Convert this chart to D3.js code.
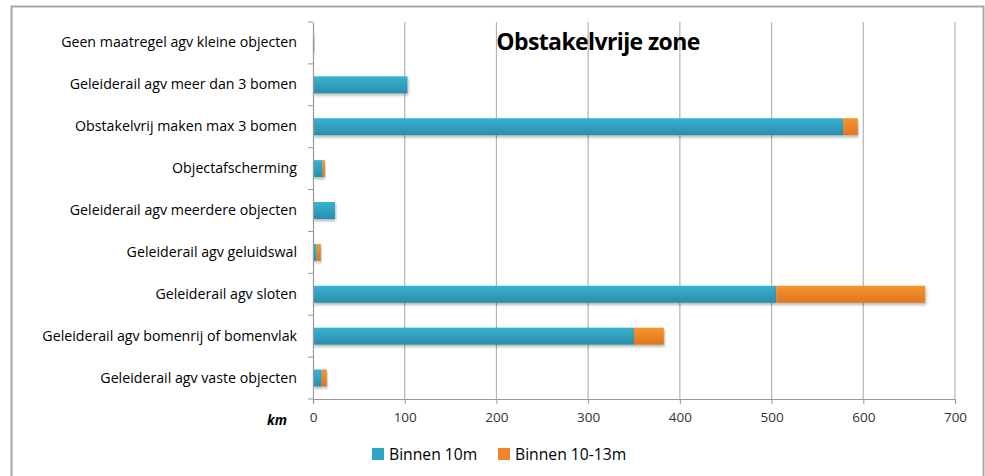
<!DOCTYPE html>
<html><head><meta charset="utf-8">
<script src="https://cdn.jsdelivr.net/npm/d3@7"></script>
<style>body{margin:0;background:#fff;} svg{display:block;font-family:"Open Sans",sans-serif;}</style>
</head><body>
<svg id="c" width="985" height="476"></svg>
<script>
const categories = [
  "Geen maatregel agv kleine objecten",
  "Geleiderail agv meer dan 3 bomen",
  "Obstakelvrij maken max 3 bomen",
  "Objectafscherming",
  "Geleiderail agv meerdere objecten",
  "Geleiderail agv geluidswal",
  "Geleiderail agv sloten",
  "Geleiderail agv bomenrij of bomenvlak",
  "Geleiderail agv vaste objecten"
];
const binnen10 = [0, 103, 578, 10.5, 24, 4, 505, 350, 9.5];
const binnen10_13 = [1.5, 0, 16, 2.5, 0, 4.5, 162.5, 32.5, 5.5];
const seriesNames = ["Binnen 10m", "Binnen 10-13m"];
const xTicks = [0, 100, 200, 300, 400, 500, 600, 700];
const title = "Obstakelvrije zone";
const unitLabel = "km";

const svg = d3.select("#c");
const defs = svg.append("defs");
function grad(id, top, bot){
  const g = defs.append("linearGradient").attr("id", id).attr("x1",0).attr("y1",0).attr("x2",0).attr("y2",1);
  g.append("stop").attr("offset","0%").attr("stop-color",top);
  g.append("stop").attr("offset","100%").attr("stop-color",bot);
}
grad("gb", "#38b2d2", "#2a8eab");
grad("go", "#f8952f", "#dd761f");
const f = defs.append("filter").attr("id","sh").attr("x","-5%").attr("y","-30%").attr("width","110%").attr("height","180%");
f.append("feDropShadow").attr("dx",1).attr("dy",2).attr("stdDeviation",1.5).attr("flood-color","#000").attr("flood-opacity",0.3);

// frame
svg.append("rect").attr("x",11.5).attr("y",6.5).attr("width",972).attr("height",480)
  .attr("fill","#fff").attr("stroke","#a6a6a6").attr("stroke-width",2);

const m = {left:313, right:955, top:22, bottom:399};
const x = d3.scaleLinear().domain([0,700]).range([m.left, m.right]);
const y = d3.scaleBand().domain(categories).range([m.top, m.bottom]);
const barH = 17;

// gridlines
svg.append("g").selectAll("line").data(xTicks.slice(1)).join("line")
  .attr("x1", d=>x(d)).attr("x2", d=>x(d)).attr("y1", m.top).attr("y2", m.bottom)
  .attr("stroke","#b3b3b3").attr("stroke-width",1.2);

// title
svg.append("text").attr("x",598).attr("y",50).attr("text-anchor","middle")
  .attr("font-size",23).attr("font-weight","bold").attr("fill","#000")
  .attr("letter-spacing","-0.6").text(title);

// bars
const stacks = categories.map((c,i)=>({c, v:[binnen10[i], binnen10_13[i]]}));
const gBars = svg.append("g");
stacks.forEach(s=>{
  let acc = 0;
  s.v.forEach((v,j)=>{
    if(v>0){
      gBars.append("rect")
        .attr("x", x(acc)).attr("width", x(acc+v)-x(acc))
        .attr("y", y(s.c)+y.bandwidth()/2-barH/2).attr("height", barH)
        .attr("fill", j===0?"url(#gb)":"url(#go)")
        .attr("filter","url(#sh)");
    }
    acc += v;
  });
});

// axes
const xAxis = d3.axisBottom(x).tickValues(xTicks).tickSize(5).tickPadding(8);
const gx = svg.append("g").attr("transform",`translate(0,${m.bottom})`).call(xAxis);
gx.select(".domain").attr("stroke","#999").attr("stroke-width",1.2);
gx.selectAll(".tick line").attr("stroke","#999");
gx.selectAll("text").attr("font-size",13.5).attr("fill","#333").attr("font-family","Open Sans");

const yAxis = d3.axisLeft(y).tickSize(0).tickPadding(16);
const gy = svg.append("g").attr("transform",`translate(${m.left},0)`).call(yAxis);
gy.select(".domain").attr("stroke","#999").attr("stroke-width",1.2);
gy.selectAll("text").attr("font-size",14.2).attr("fill","#000").attr("font-family","Open Sans");
// y tick marks at band boundaries
const bounds = categories.map(c=>y(c)).concat([m.bottom]);
svg.append("g").selectAll("line").data(bounds).join("line")
  .attr("x1", m.left-5).attr("x2", m.left).attr("y1", d=>d).attr("y2", d=>d)
  .attr("stroke","#999");

svg.append("text").attr("x",287).attr("y",425).attr("text-anchor","end")
  .attr("font-size",13.5).attr("font-weight","bold").attr("font-style","italic").text(unitLabel);

// legend
const legend = svg.append("g");
const legX = [372, 498];
seriesNames.forEach((n,i)=>{
  legend.append("rect").attr("x",legX[i]).attr("y",448).attr("width",12).attr("height",12)
    .attr("fill", i===0?"#2fa3c4":"#ef8428");
  legend.append("text").attr("x",legX[i]+17).attr("y",459.5).attr("font-size",15.7).attr("fill","#000").text(n);
});
</script>
</body></html>
